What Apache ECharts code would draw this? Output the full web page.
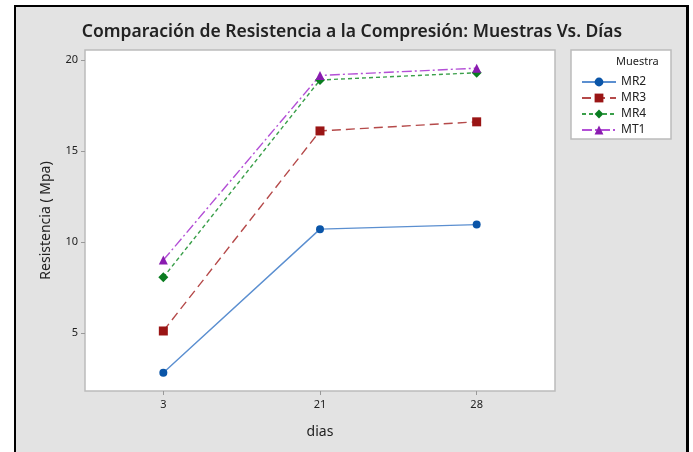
<!DOCTYPE html>
<html>
<head>
<meta charset="utf-8">
<script src="https://cdn.jsdelivr.net/npm/echarts@6/dist/echarts.min.js"></script>
<style>
html,body{margin:0;padding:0;background:#fff;}
#c{width:693px;height:452px;}
</style>
</head>
<body>
<div id="c"></div>
<script>
const categories = ['3', '21', '28'];
const mr2 = [2.8, 10.7, 10.95];
const mr3 = [5.1, 16.1, 16.6];
const mr4 = [8.05, 18.9, 19.3];
const mt1 = [9.0, 19.15, 19.55];
const yTicks = [5, 10, 15, 20];
const seriesNames = ['MR2', 'MR3', 'MR4', 'MT1'];

const chart = echarts.init(document.getElementById('c'), null, {renderer: 'canvas'});
const font = '"Noto Sans", "Open Sans", sans-serif';

function mk(name, data, symbol, size, mColor, lColor, ltype) {
  return {
    name: name, type: 'line', data: data, symbol: symbol, symbolSize: size,
    itemStyle: {color: mColor},
    lineStyle: {color: lColor, width: 1.4, type: ltype},
    emphasis: {disabled: true}
  };
}

chart.setOption({
  backgroundColor: '#e3e3e3',
  animation: false,
  title: {
    text: 'Comparación de Resistencia a la Compresión: Muestras Vs. Días',
    left: 347, top: 18, textAlign: 'center',
    textStyle: {fontFamily: font, fontSize: 17.5, fontWeight: 600, color: '#222'}
  },
  grid: {
    left: 85, right: 138, top: 50, bottom: 61,
    show: true, backgroundColor: '#ffffff', borderColor: '#bcbcbc', borderWidth: 1.5
  },
  legend: {
    data: seriesNames,
    orient: 'vertical',
    left: 576, top: 71,
    itemWidth: 34, itemHeight: 11, itemGap: 4,
    textStyle: {fontFamily: font, fontSize: 12, lineHeight: 11, color: '#222'}
  },
  graphic: [
    {type: 'rect', shape: {x: 571, y: 50, width: 100, height: 89},
     style: {fill: '#ffffff', stroke: '#bcbcbc', lineWidth: 1.5}, z: -1},
    {type: 'text', x: 616, y: 56, style: {text: 'Muestra', font: '11px ' + font, fill: '#222'}},
    {type: 'rect', shape: {x: 0, y: 0, width: 14, height: 452}, style: {fill: '#fff'}},
    {type: 'rect', shape: {x: 0, y: 0, width: 693, height: 5}, style: {fill: '#fff'}},
    {type: 'rect', shape: {x: 689, y: 0, width: 4, height: 452}, style: {fill: '#fff'}},
    {type: 'rect', shape: {x: 14, y: 5, width: 2, height: 447}, style: {fill: '#000'}},
    {type: 'rect', shape: {x: 14, y: 5, width: 675, height: 2}, style: {fill: '#000'}},
    {type: 'rect', shape: {x: 686, y: 5, width: 3, height: 447}, style: {fill: '#000'}}
  ],
  xAxis: {
    type: 'category', data: categories, boundaryGap: true,
    name: 'dias', nameLocation: 'middle', nameGap: 34,
    nameTextStyle: {fontFamily: font, fontSize: 14, color: '#222'},
    axisLine: {show: false},
    axisTick: {show: true, alignWithLabel: true, length: 4, lineStyle: {color: '#999'}},
    axisLabel: {fontFamily: font, fontSize: 11, color: '#222', margin: 8},
    splitLine: {show: false}
  },
  yAxis: {
    type: 'value', min: 1.8, max: 20.55,
    name: 'Resistencia ( Mpa)', nameLocation: 'middle', nameGap: 32,
    nameTextStyle: {fontFamily: font, fontSize: 14, color: '#222'},
    axisLine: {show: false},
    axisTick: {show: true, length: 4, lineStyle: {color: '#999'}, customValues: yTicks},
    axisLabel: {fontFamily: font, fontSize: 11, color: '#222', margin: 7, customValues: yTicks},
    splitLine: {show: false}
  },
  series: [
    mk('MR2', mr2, 'circle', 8, '#0a55a8', '#5b8fd0', 'solid'),
    mk('MR3', mr3, 'rect', 9, '#9a1515', '#b54a4a', [9, 5]),
    mk('MR4', mr4, 'diamond', 10, '#0a7d20', '#3a9f4a', [4, 3]),
    mk('MT1', mt1, 'triangle', 9, '#8a1cb0', '#b34fd6', [10, 3, 2, 3])
  ]
});
</script>
</body>
</html>
